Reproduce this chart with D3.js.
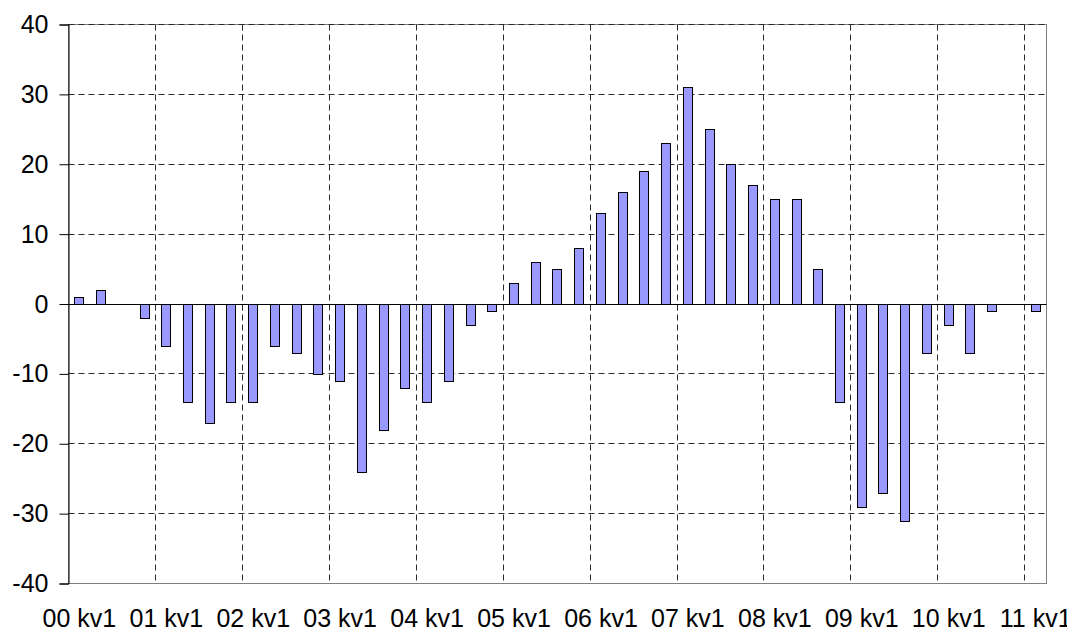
<!DOCTYPE html>
<html>
<head>
<meta charset="utf-8">
<script src="https://cdnjs.cloudflare.com/ajax/libs/d3/7.8.5/d3.min.js"></script>
<style>
  body { margin: 0; background: #fff; }
  text { font-family: "Liberation Sans", Arial, sans-serif; font-size: 25px; fill: #000; }
</style>
</head>
<body>
<div id="chart"></div>
<script>
// quarters per year, 00 kv1 .. 11 kv1
var years = ["00", "01", "02", "03", "04", "05", "06", "07", "08", "09", "10", "11"];
var quarters = ["kv1", "kv2", "kv3", "kv4"];

var values = [
   1,   2,   0,  -2,
  -6, -14, -17, -14,
 -14,  -6,  -7, -10,
 -11, -24, -18, -12,
 -14, -11,  -3,  -1,
   3,   6,   5,   8,
  13,  16,  19,  23,
  31,  25,  20,  17,
  15,  15,   5, -14,
 -29, -27, -31,  -7,
  -3,  -7,  -1,   0,
  -1
];

var yTicks = [-40, -30, -20, -10, 0, 10, 20, 30, 40];

var categories = [];
years.forEach(function(y) {
  quarters.forEach(function(q) { categories.push(y + " " + q); });
});
categories = categories.slice(0, values.length);

var data = categories.map(function(c, i) { return {cat: c, val: values[i]}; });

var margin = {top: 24.5, left: 68.5},
    width = 978,
    height = 559;

var svg = d3.select("#chart")
            .append("svg")
            .attr("width", 1067)
            .attr("height", 632);

var g = svg.append("g")
           .attr("transform", "translate(" + margin.left + "," + margin.top + ")");

var x = d3.scaleBand()
          .domain(categories)
          .range([0, width])
          .paddingInner(0.585)
          .paddingOuter(0.2925);

var y = d3.scaleLinear()
          .domain([-40, 40])
          .range([height, 0]);

var step = x.step();

// plot area border (grey)
g.append("rect")
 .attr("x", 0).attr("y", 0)
 .attr("width", width).attr("height", height)
 .attr("fill", "none")
 .attr("stroke", "#808080")
 .attr("stroke-width", 1);

// horizontal gridlines
g.selectAll(".hgrid")
 .data(yTicks.filter(function(t) { return t !== -40 && t !== 0; }))
 .enter().append("line")
 .attr("class", "hgrid")
 .attr("x1", 0).attr("x2", width)
 .attr("y1", function(d) { return Math.round(y(d)); })
 .attr("y2", function(d) { return Math.round(y(d)); })
 .attr("stroke", "#2a2a2a")
 .attr("stroke-dasharray", "6,4");

// vertical gridlines between years
var yearBreaks = categories.filter(function(c, i) { return i > 0 && i % 4 === 0; });
g.selectAll(".vgrid")
 .data(yearBreaks)
 .enter().append("line")
 .attr("class", "vgrid")
 .attr("x1", function(d) { return Math.round(x(d) - (step - x.bandwidth()) / 2); })
 .attr("x2", function(d) { return Math.round(x(d) - (step - x.bandwidth()) / 2); })
 .attr("y1", 0).attr("y2", height)
 .attr("stroke", "#2a2a2a")
 .attr("stroke-dasharray", "6,4");

// bars
g.selectAll(".bar")
 .data(data)
 .enter().append("rect")
 .attr("class", "bar")
 .attr("x", function(d) { return Math.round(x(d.cat)); })
 .attr("width", Math.round(x.bandwidth()))
 .attr("y", function(d) { return Math.round(y(Math.max(0, d.val))); })
 .attr("height", function(d) { return Math.round(Math.abs(y(d.val) - y(0))); })
 .attr("fill", "#9999ff")
 .attr("stroke", "#000")
 .attr("stroke-width", 1);

// zero line (category axis)
g.append("line")
 .attr("x1", 0).attr("x2", width)
 .attr("y1", Math.round(y(0))).attr("y2", Math.round(y(0)))
 .attr("stroke", "#000");

// value axis
var yAxis = g.append("g")
  .call(d3.axisLeft(y)
    .tickValues(yTicks)
    .tickSize(9)
    .tickPadding(11)
    .tickFormat(function(d) { return String(d); }));
yAxis.select(".domain").attr("stroke", "#000");
yAxis.selectAll("line").attr("stroke", "#000");
yAxis.selectAll("text")
     .attr("font-size", 25)
     .attr("font-family", "Liberation Sans, Arial, sans-serif");

// category labels
var xAxis = g.append("g")
  .attr("transform", "translate(0," + height + ")")
  .call(d3.axisBottom(x)
    .tickValues(categories.filter(function(c, i) { return i % 4 === 0; }))
    .tickSize(0)
    .tickPadding(26));
xAxis.select(".domain").remove();
xAxis.selectAll("text")
     .attr("font-size", 25)
     .attr("font-family", "Liberation Sans, Arial, sans-serif");
</script>
</body>
</html>
